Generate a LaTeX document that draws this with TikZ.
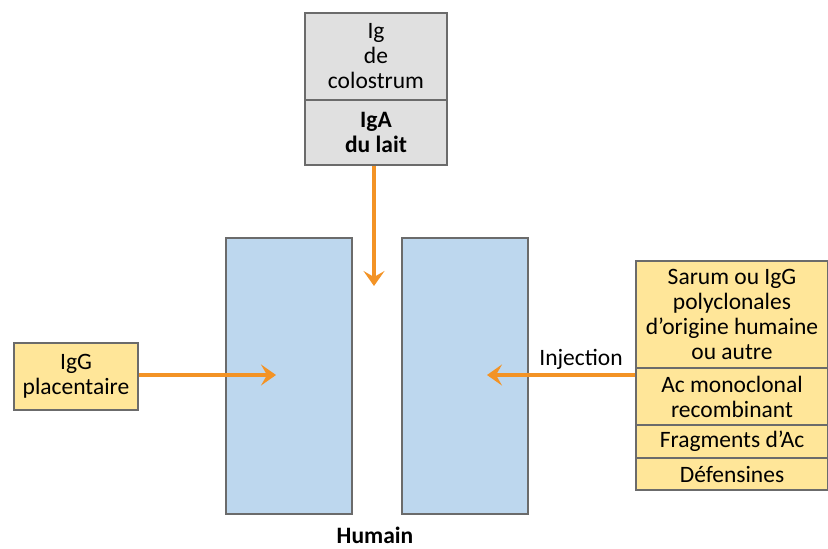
\documentclass[tikz,border=0pt]{standalone}
\usepackage{fontspec}
\setmainfont{Carlito}
\usetikzlibrary{arrows.meta}
\definecolor{boxgrey}{HTML}{E0E0E0}
\definecolor{edgegrey}{HTML}{6B6B6B}
\definecolor{boxyellow}{HTML}{FFE699}
\definecolor{boxblue}{HTML}{BDD7EE}
\definecolor{arrorange}{HTML}{F39325}
\begin{document}
\begin{tikzpicture}[x=1pt,y=-1pt,
  cell/.style={draw=edgegrey, line width=2pt, anchor=north west, inner sep=0pt,
    align=center},
  arr/.style={draw=arrorange, line width=3.5pt, -{Stealth[length=15pt,width=21pt,inset=6pt]}},
  lbl/.style={font=\fontsize{23.5}{25}\selectfont, inner sep=0pt}]
\useasboundingbox (0,0) rectangle (828,549);
% top grey box
\node[cell, fill=boxgrey, minimum width=142pt, minimum height=87pt] (colo) at (304,12) {};
\node[lbl, align=center] at (colo.center) {Ig\\de\\colostrum};
\node[cell, fill=boxgrey, minimum width=142pt, minimum height=65pt] (lait) at (304,99) {};
\node[lbl, align=center, font=\fontsize{23.5}{25}\selectfont\bfseries] at (lait.center) {IgA\\du lait};
% blue rectangles
\node[cell, fill=boxblue, minimum width=126pt, minimum height=276pt] (lblue) at (225,237) {};
\node[cell, fill=boxblue, minimum width=126pt, minimum height=276pt] (rblue) at (401,237) {};
% left yellow box
\node[cell, fill=boxyellow, minimum width=124pt, minimum height=67pt] (plac) at (13,342) {};
\node[lbl, align=center] at (plac.center) {IgG\\placentaire};
% right yellow stack
\node[cell, fill=boxyellow, minimum width=192pt, minimum height=107pt] (sarum) at (635,260) {};
\node[lbl, align=center] at (sarum.center) {Sarum ou IgG\\polyclonales\\d’origine humaine\\ou autre};
\node[cell, fill=boxyellow, minimum width=192pt, minimum height=57pt] (mono) at (635,367) {};
\node[lbl, align=center] at (mono.center) {Ac monoclonal\\recombinant};
\node[cell, fill=boxyellow, minimum width=192pt, minimum height=33pt] (frag) at (635,424) {};
\node[lbl] at (frag.center) {Fragments d’Ac};
\node[cell, fill=boxyellow, minimum width=192pt, minimum height=32pt] (def) at (635,457) {};
\node[lbl] at (def.center) {Défensines};
% arrow targets
\coordinate (topend) at (374,286);
\coordinate (leftend) at (276,375);
\coordinate (injstart) at (635,375);
\coordinate (rightend) at (487,375);
\draw[arr] (lait.south -| topend) -- (topend);
\draw[arr] (plac.east |- leftend) -- (leftend);
\draw[arr] (injstart) -- (rightend);
\node[lbl, anchor=base] (inj) at (581,365) {Injection};
\node[lbl, anchor=base, font=\fontsize{23.5}{25}\selectfont\bfseries] (hum) at (375,543) {Humain};
\end{tikzpicture}
\end{document}
